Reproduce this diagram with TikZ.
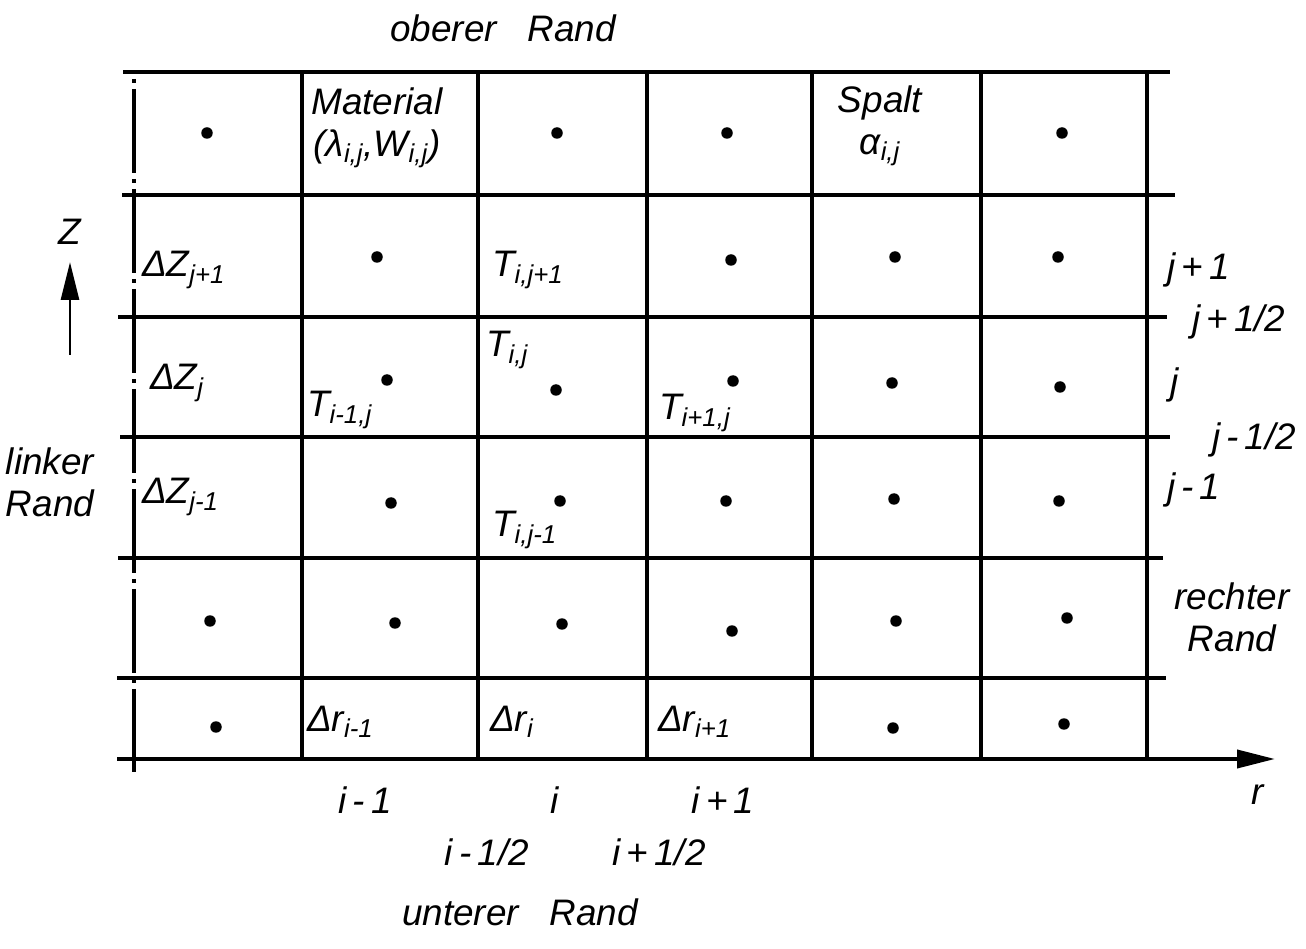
\documentclass[tikz,border=0pt]{standalone}
\usepackage{fontspec}
\setmainfont{Liberation Sans}
\usetikzlibrary{arrows.meta,positioning}
\newcommand{\ix}[1]{\textsubscript{#1}}

\begin{document}
\begin{tikzpicture}[x=0.02cm, y=-0.02cm,
  font=\fontsize{21}{24}\selectfont\itshape,
  gridline/.style={line width=2.2pt},
  knot/.style={circle,fill,inner sep=0pt,minimum size=2.3mm},
  cell/.style={anchor=west,inner sep=1pt},
  >={Triangle[length=7.6mm,width=3.6mm]}]
\useasboundingbox (0,0) rectangle (1306,949);
% --- grid ---
\foreach \y/\xa/\xb in {72/123/1170, 195/122/1175, 317/118/1167,
                        437/120/1170, 558/118/1163, 678/117/1166}
  \draw[gridline] (\xa,\y) -- (\xb,\y);
\foreach \x in {302,478,647,812,981,1147}
  \draw[gridline] (\x,72) -- (\x,759);
\draw[gridline,dash pattern=on 1.68cm off 0.12cm on 0.08cm off 0.12cm,
  dash phase=1.66cm] (134,72) -- (134,772);
% --- axes ---
\coordinate (r0) at (117,759);
\coordinate (r1) at (1275,759);
\draw[gridline,->] (r0) -- (r1);
\coordinate (z0) at (70,355);
\coordinate (z1) at (70,262);
\draw[line width=1.6pt,->] (z0) -- (z1);
\node (zlab) at (70,232) {Z};
\node (rlab) at (1258,795) {r};
% --- cell centres ---
\foreach \x/\y [count=\n] in {207/133,557/133,727/133,1062/133,
    377/257,731/260,895/257,1058/257,
    387/380,556/390,733/381,892/383,1060/387,
    391/503,560/501,726/501,894/499,1059/501,
    210/621,395/623,562/624,732/631,896/621,1067/618,
    216/727,893/728,1064/724}
  \node[knot] (k\n) at (\x,\y) {};
% --- boundaries ---
\node (oben) at (503,28) {oberer\ \ \ Rand};
\node (unten) at (520,912) {unterer\ \ \ Rand};
\node[align=center] (links) at (50,482) {linker\\Rand};
\node[align=center] (rechts) at (1232,617) {rechter\\Rand};
% --- cell labels ---
\node[align=center] (mat) at (377,128) {Material\\(λ\ix{i,j},W\ix{i,j})};
\node[align=center] (spalt) at (880,126) {Spalt\\α\ix{i,j}};
\node[cell] (dz1) at (140,270) {ΔZ\ix{j+1}};
\node[cell] (dz0) at (148,383) {ΔZ\ix{j}};
\node[cell] (dz2) at (140,497) {ΔZ\ix{j-1}};
\node[cell] (tup) at (490,270) {T\ix{i,j+1}};
\node[cell] (tij) at (484,350) {T\ix{i,j}};
\node[cell] (tleft) at (305,410) {T\ix{i-1,j}};
\node[cell] (tright) at (657,413) {T\ix{i+1,j}};
\node[cell] (tdown) at (490,530) {T\ix{i,j-1}};
\node[cell] (dr1) at (305,722) {Δr\ix{i-1}};
\node[cell] (dr0) at (488,722) {Δr\ix{i}};
\node[cell] (dr2) at (656,722) {Δr\ix{i+1}};
% --- indices ---
\node[cell] (jp1) at (1165,270) {j\,+\,1};
\node[cell] (jph) at (1190,322) {j\,+\,1/2};
\node[cell] (jj) at (1168,385) {j};
\node[cell] (jmh) at (1210,440) {j\,-\,1/2};
\node[cell] (jm1) at (1165,490) {j\,-\,1};
\node (im1) at (365,800) {i\,-\,1};
\node (ii) at (555,800) {i};
\node (ip1) at (723,800) {i\,+\,1};
\node (imh) at (487,852) {i\,-\,1/2};
\node (iph) at (659,852) {i\,+\,1/2};
\end{tikzpicture}
\end{document}
